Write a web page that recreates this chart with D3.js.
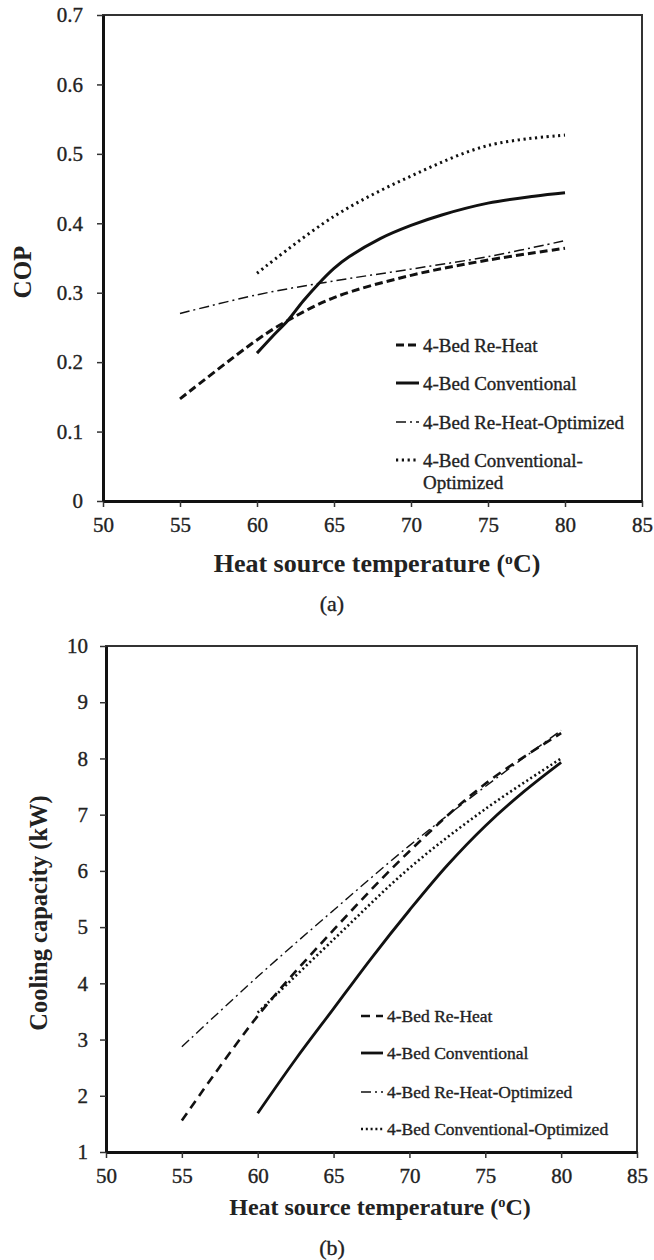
<!DOCTYPE html>
<html>
<head>
<meta charset="utf-8">
<script src="https://cdn.jsdelivr.net/npm/d3@7"></script>
<style>
  body { margin: 0; background: #fff; }
  text { font-family: "Liberation Serif", "Times New Roman", serif; fill: #222; }
  .reg { stroke: #222; stroke-width: 0.35px; }
</style>
</head>
<body>
<div id="chart"></div>
<script>
// Series names (legend order)
const seriesNames = ["4-Bed Re-Heat", "4-Bed Conventional", "4-Bed Re-Heat-Optimized", "4-Bed Conventional-Optimized"];

// (a) COP vs heat source temperature
const reheatTempA = [55, 60, 62, 65, 70, 75, 80];
const reheatCOP = [0.147, 0.232, 0.26, 0.293, 0.325, 0.347, 0.364];
const convTempA = [60, 61, 62, 63, 64, 65, 66, 68, 70, 72, 75, 78, 80];
const convCOP = [0.213, 0.237, 0.26, 0.288, 0.313, 0.335, 0.352, 0.378, 0.397, 0.412, 0.429, 0.439, 0.444];
const reheatOptTempA = [55, 60, 65, 70, 75, 80];
const reheatOptCOP = [0.27, 0.297, 0.317, 0.334, 0.352, 0.375];
const convOptTempA = [60, 65, 70, 75, 80];
const convOptCOP = [0.328, 0.41, 0.468, 0.512, 0.527];

// (b) Cooling capacity vs heat source temperature
const reheatTempB = [55, 60, 65, 70, 75, 80];
const reheatCap = [1.56, 3.42, 4.95, 6.35, 7.55, 8.45];
const convTempB = [60, 62.5, 65, 67.5, 70, 72.5, 75, 77.5, 80];
const convCap = [1.69, 2.65, 3.55, 4.45, 5.3, 6.1, 6.8, 7.4, 7.93];
const reheatOptTempB = [55, 60, 65, 70, 75, 80];
const reheatOptCap = [2.87, 4.12, 5.3, 6.45, 7.5, 8.5];
const convOptTempB = [60, 65, 70, 75, 80];
const convOptCap = [3.48, 4.78, 6.05, 7.1, 8.0];

// Tick values
const xTicks = [50, 55, 60, 65, 70, 75, 80, 85];
const copTicks = [0, 0.1, 0.2, 0.3, 0.4, 0.5, 0.6, 0.7];
const capTicks = [1, 2, 3, 4, 5, 6, 7, 8, 9, 10];

const width = 654;
const height = 1260;

const svg = d3.select("#chart").append("svg")
    .attr("width", width)
    .attr("height", height);

// line styles for the four series, in legend order
function styleA(i) {
    return [
        { w: 3, dash: "8,4" },
        { w: 3, dash: null },
        { w: 1.5, dash: "10,4,2,4" },
        { w: 3, dash: "2.2,3.6" }
    ][i];
}
function styleB(i) {
    return [
        { w: 2.6, dash: "9,6" },
        { w: 2.8, dash: null },
        { w: 1.4, dash: "10,4,2,4" },
        { w: 2.6, dash: "2,2.8" }
    ][i];
}

function drawPanel(opt) {
    const g = svg.append("g");
    const x = d3.scaleLinear().domain([50, 85]).range([opt.left, opt.right]);
    const y = d3.scaleLinear().domain(opt.yDomain).range([opt.bottom, opt.top]);

    // frame (top/right)
    g.append("rect")
        .attr("x", opt.left).attr("y", opt.top)
        .attr("width", opt.right - opt.left).attr("height", opt.bottom - opt.top)
        .attr("fill", "none").attr("stroke", "#333").attr("stroke-width", 2);

    const xAxis = g.append("g")
        .attr("transform", `translate(0,${opt.bottom})`)
        .call(d3.axisBottom(x).tickValues(xTicks).tickSize(6).tickSizeOuter(0).tickPadding(10));
    const yAxis = g.append("g")
        .attr("transform", `translate(${opt.left},0)`)
        .call(d3.axisLeft(y).tickValues(opt.yTicks).tickSize(6).tickSizeOuter(0)
            .tickPadding(opt.yPad).tickFormat(opt.yFormat));

    [xAxis, yAxis].forEach(a => {
        a.select(".domain").attr("stroke", "#111").attr("stroke-width", 3);
        a.selectAll(".tick line").attr("stroke", "#333").attr("stroke-width", 1.5);
        a.selectAll(".tick text")
            .attr("class", "reg")
            .style("font-family", '"Liberation Serif", serif')
            .style("font-size", "21px").attr("fill", "#222");
    });

    // lines
    const line = d3.line()
        .x(d => x(d[0])).y(d => y(d[1]))
        .curve(d3.curveCatmullRom.alpha(0.5));

    opt.series.forEach((s, i) => {
        const st = opt.style(i);
        g.append("path")
            .datum(d3.zip(s.t, s.v))
            .attr("d", line)
            .attr("fill", "none")
            .attr("stroke", "#111")
            .attr("stroke-width", st.w)
            .attr("stroke-dasharray", st.dash);
    });

    // legend
    opt.legendRows.forEach((ly, i) => {
        const st = opt.style(i);
        g.append("line")
            .attr("x1", opt.legX1).attr("x2", opt.legX2)
            .attr("y1", ly).attr("y2", ly)
            .attr("stroke", "#111")
            .attr("stroke-width", st.w)
            .attr("stroke-dasharray", st.dash);
        const lines = opt.legendLabels[i];
        lines.forEach((txt, k) => {
            g.append("text")
                .attr("class", "reg")
                .attr("x", opt.legX2 + 4)
                .attr("y", ly + k * opt.legLineGap)
                .attr("dy", "0.35em")
                .style("font-size", opt.legFont + "px")
                .text(txt);
        });
    });

    // axis titles
    g.append("text")
        .attr("x", opt.xTitleX).attr("y", opt.xTitleY)
        .attr("text-anchor", "middle").attr("dy", "0.35em")
        .style("font-size", opt.titleFont + "px").style("font-weight", "bold")
        .text("Heat source temperature (")
        .append("tspan").attr("baseline-shift", "super").style("font-size", "0.6em").text("o")
        .select(function () { return this.parentNode; })
        .append("tspan").text("C)");

    g.append("text")
        .attr("transform", `translate(${opt.yTitleX},${opt.yTitleY}) rotate(-90)`)
        .attr("text-anchor", "middle").attr("dy", "0.35em")
        .style("font-size", opt.yTitleFont + "px").style("font-weight", "bold")
        .text(opt.yTitle);

    g.append("text")
        .attr("class", "reg")
        .attr("x", 332).attr("y", opt.tagY)
        .attr("text-anchor", "middle").attr("dy", "0.35em")
        .style("font-size", "22px")
        .text(opt.tag);
}

drawPanel({
    left: 103, right: 642, top: 15, bottom: 501,
    yDomain: [0, 0.7], yTicks: copTicks, yPad: 14,
    yFormat: d => d === 0 ? "0" : d.toFixed(1),
    series: [
        { t: reheatTempA, v: reheatCOP },
        { t: convTempA, v: convCOP },
        { t: reheatOptTempA, v: reheatOptCOP },
        { t: convOptTempA, v: convOptCOP }
    ],
    style: styleA,
    legendRows: [345, 383, 422, 460],
    legendLabels: [[seriesNames[0]], [seriesNames[1]], [seriesNames[2]], ["4-Bed Conventional-", "Optimized"]],
    legX1: 396, legX2: 419, legFont: 19, legLineGap: 22,
    xTitleX: 377, xTitleY: 563, titleFont: 26,
    yTitle: "COP", yTitleX: 22, yTitleY: 272, yTitleFont: 25,
    tag: "(a)", tagY: 603
});

drawPanel({
    left: 106, right: 637, top: 646, bottom: 1152,
    yDomain: [1, 10], yTicks: capTicks, yPad: 12,
    yFormat: d3.format("d"),
    series: [
        { t: reheatTempB, v: reheatCap },
        { t: convTempB, v: convCap },
        { t: reheatOptTempB, v: reheatOptCap },
        { t: convOptTempB, v: convOptCap }
    ],
    style: styleB,
    legendRows: [1016, 1053, 1092, 1129],
    legendLabels: [[seriesNames[0]], [seriesNames[1]], [seriesNames[2]], [seriesNames[3]]],
    legX1: 361, legX2: 383, legFont: 17.5, legLineGap: 0,
    xTitleX: 380, xTitleY: 1207, titleFont: 24,
    yTitle: "Cooling capacity (kW)", yTitleX: 38, yTitleY: 913, yTitleFont: 24.5,
    tag: "(b)", tagY: 1247
});
</script>
</body>
</html>
